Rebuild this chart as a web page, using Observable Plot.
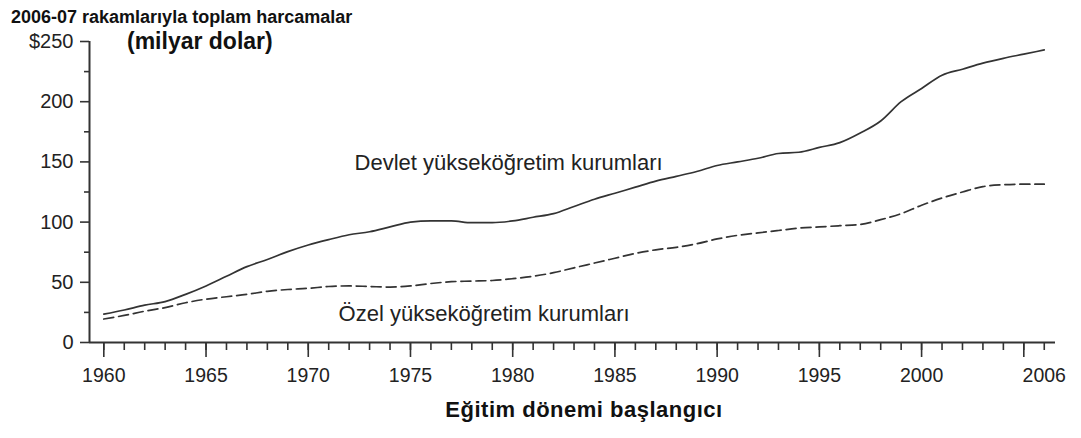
<!DOCTYPE html>
<html><head><meta charset="utf-8">
<script src="https://cdn.jsdelivr.net/npm/d3@7"></script>
<script src="https://cdn.jsdelivr.net/npm/@observablehq/plot@0.6"></script>
<style>
body{margin:0;background:#fff;}
#wrap{position:relative;width:1081px;height:438px;font-family:"Liberation Sans",Arial,sans-serif;color:#111;}
.t{position:absolute;white-space:nowrap;font-weight:bold;line-height:1;}
#chart{position:absolute;left:0;top:0;}
</style></head><body>
<div id="wrap">
<div id="chart"></div>
<div class="t" style="left:11px;top:7.5px;font-size:18px;">2006-07 rakamlarıyla toplam harcamalar</div>
<div class="t" style="left:127px;top:30px;font-size:23px;">(milyar dolar)</div>
<div class="t" style="left:584px;top:398.5px;font-size:22px;letter-spacing:0.5px;transform:translateX(-50%);">Eğitim dönemi başlangıcı</div>
</div>
<script>
const years = [1960,1961,1962,1963,1964,1965,1966,1967,1968,1969,1970,1971,1972,1973,1974,1975,1976,1977,1978,1979,1980,1981,1982,1983,1984,1985,1986,1987,1988,1989,1990,1991,1992,1993,1994,1995,1996,1997,1998,1999,2000,2001,2002,2003,2004,2005,2006];
const publicSpend = [23.5,27,31,34,40,47,55,63,69,75.5,81,85.5,89.5,92,96,100,101,101,99.5,99.5,101,104,107,113,119,124,129,134,138,142,147,150,153,157,158,162,166,174,184,200,211,222,227,232,236,239.5,243];
const privateSpend = [19.5,22.5,26,29,33,36,38,40,42.5,44,45,46.5,47,46.5,46,47,49,50.5,51,51.5,53,55,58,62,66,70,74,77,79,82,86,89,91,93,95,96,97,98,102,107,114,120,125,129.5,131,131.5,131.5];
const xMajorTicks = [1960,1965,1970,1975,1980,1985,1990,1995,2000,2005];
const xLabelTicks = [1960,1965,1970,1975,1980,1985,1990,1995,2000,2006];
const yMajorTicks = [0,50,100,150,200,250];
const yMinorTicks = [25,75,125,175,225];
const yTickLabels = ["0","50","100","150","200","$250"];
const seriesLabels = [
  {text:"Devlet yükseköğretim kurumları", year:1979.8, value:149},
  {text:"Özel yükseköğretim kurumları", year:1978.6, value:23.3}
];
const xDomain = [1959.3, 2006.55];

const pub = years.map((y,i)=>({year:y, value:publicSpend[i]}));
const priv = years.map((y,i)=>({year:y, value:privateSpend[i]}));

const chart = Plot.plot({
  width:1081, height:438,
  marginLeft:89, marginRight:26, marginTop:41, marginBottom:96,
  x:{domain:xDomain, axis:null},
  y:{domain:[0,250], axis:null},
  style:{fontFamily:"Liberation Sans, Arial, sans-serif", background:"transparent", color:"#222"},
  marks:[
    Plot.axisX(years, {tickSize:8, text:null, strokeWidth:1.6, stroke:"#333", label:null}),
    Plot.axisX(xMajorTicks, {tickSize:15, text:null, strokeWidth:1.6, stroke:"#333", label:null}),
    Plot.axisX(xLabelTicks, {tickSize:0, tickPadding:26, fontSize:19.5, fill:"#222", tickFormat:d=>String(d), label:null}),
    Plot.axisY(yMinorTicks, {tickSize:5, text:null, strokeWidth:1.6, stroke:"#333", label:null}),
    Plot.axisY(yMajorTicks, {tickSize:9, tickPadding:7, fontSize:20, fill:"#222", strokeWidth:1.6, stroke:"#333", tickFormat:d=>yTickLabels[yMajorTicks.indexOf(d)], label:null}),
    Plot.ruleY([0], {stroke:"#333", strokeWidth:2}),
    Plot.ruleX([xDomain[0]], {stroke:"#333", strokeWidth:2}),
    Plot.line(pub, {x:"year", y:"value", stroke:"#333", strokeWidth:1.7, curve:"monotone-x"}),
    Plot.line(priv, {x:"year", y:"value", stroke:"#333", strokeWidth:1.7, strokeDasharray:"10,5", curve:"monotone-x"}),
    Plot.text(seriesLabels, {x:"year", y:"value", text:"text", fontSize:22, fill:"#222", textAnchor:"middle"})
  ]
});
document.getElementById("chart").appendChild(chart);
</script>
</body></html>
